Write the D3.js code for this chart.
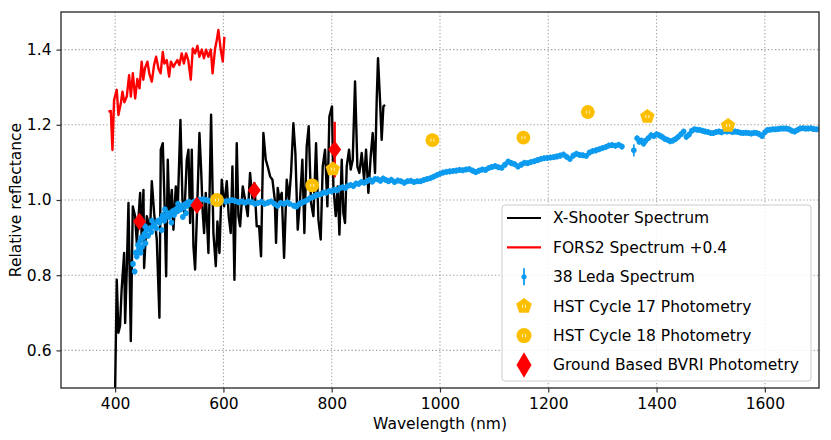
<!DOCTYPE html>
<html>
<head>
<meta charset="utf-8">
<script src="https://cdn.jsdelivr.net/npm/d3@7"></script>
<style>
  body { margin: 0; background: #fff; }
  svg { display: block; font-family: "DejaVu Sans", sans-serif; }
  .grid line { stroke: #a0a0a0; stroke-width: 1.1; stroke-dasharray: 1.3,2.2; }
  .axis line { stroke: #333; stroke-width: 1.2; }
  .axis path { display: none; }
</style>
</head>
<body>
<div id="chart"></div>
<script>
// X-Shooter spectrum [nm, reflectance]
var xshooter = [
  [400,0.50],[403,0.788],[406,0.647],[409,0.665],[412,0.762],[416.6,0.859],[418.5,0.673],[421.5,0.815],
  [424.6,0.992],[428.9,0.625],[432.6,0.983],[436.9,0.957],[440,0.886],[446.2,1.019],[449.2,0.895],
  [452.3,1.027],[453.5,0.819],[458.5,0.957],[464.6,0.921],[467.7,1.050],[472,0.965],[476.9,0.895],
  [481.8,0.687],[484.3,1.134],[488,1.151],[491.1,1.001],[494.2,0.797],[497.2,1.107],[500.3,0.957],
  [504.6,1.027],[507.7,0.921],[512,1.036],[515.7,0.983],[520.6,1.213],[524.3,1.001],[528,0.965],
  [532.3,1.107],[535.4,1.134],[538.5,0.939],[541.5,1.134],[544.6,0.877],[547.7,0.815],[552,1.001],
  [555.7,1.178],[558.8,1.081],[561.8,0.965],[564.3,0.912],[567.4,1.019],[572.3,0.859],[577.2,1.227],
  [581.5,0.912],[585.9,0.824],[588.9,0.943],[592.6,0.859],[596.9,1.054],[601.2,0.983],[606.2,1.050],
  [609.8,0.957],[613.5,0.912],[616.6,1.089],[620.3,0.788],[624.6,1.151],[627.7,0.957],[630.8,0.930],
  [635.7,1.036],[640,1.001],[644.9,0.957],[649.2,1.072],[653.5,1.001],[657.2,1.045],[661.5,0.930],
  [665.9,0.930],[669.5,0.850],[673.8,1.178],[678.2,1.107],[681.8,1.089],[686.2,1.063],[690.5,1.054],
  [694.8,1.001],[697.2,0.886],[700.3,1.032],[703.4,1.001],[707.7,1.019],[712,0.846],[716.9,1.054],
  [721.2,1.001],[724.9,1.072],[729.2,1.204],[732.9,1.125],[737.2,0.921],[741.5,1.001],[745.8,1.107],
  [749.5,0.912],[753.8,1.142],[757.5,1.196],[761.8,0.992],[766.2,0.957],[771.1,1.151],[775.4,0.948],
  [779.7,0.895],[783.4,1.089],[787.7,1.134],[792,0.983],[795.7,1.222],[800.5,1.249],[803.1,1.036],
  [807.4,0.957],[811.1,1.036],[814.2,0.908],[818.5,1.107],[821.5,0.965],[824.6,0.939],[827.7,1.089],
  [832,1.134],[835.1,1.081],[838.8,1.107],[843.1,1.315],[847.4,1.089],[851.1,1.072],[855.4,1.125],
  [859.8,1.054],[863.4,1.134],[867.7,1.019],[872,1.116],[875.7,1.178],[880,1.072],[883.1,1.266],
  [885.5,1.377],[889.2,1.266],[892.3,1.160],[895.4,1.249],[898.5,1.253]
];

// FORS2 spectrum, already shifted by +0.4
var fors2 = [
  [387.6,1.235],[392,1.237],[395,1.133],[398,1.266],[403,1.293],[406,1.226],[410.5,1.257],[413.5,1.288],
  [417,1.26],[421.5,1.275],[425.8,1.332],[429,1.275],[432.7,1.337],[437,1.27],[441,1.322],[445,1.297],
  [449,1.368],[452,1.32],[455,1.35],[459.6,1.368],[463,1.337],[467.7,1.315],[472,1.36],[475.7,1.381],
  [480,1.35],[484,1.337],[488,1.394],[491,1.363],[495.4,1.372],[499.7,1.328],[503,1.368],[507.7,1.354],
  [511,1.363],[515,1.372],[518.7,1.359],[523,1.39],[527,1.363],[531,1.39],[535,1.372],[539.7,1.32],
  [543.4,1.403],[547.7,1.39],[552,1.41],[555.6,1.381],[560,1.4],[564,1.377],[568,1.4],[572,1.381],
  [576.7,1.4],[580,1.337],[584.6,1.403],[587.7,1.425],[590.7,1.452],[595,1.4],[598.8,1.368],[601.8,1.434]
];

// 38 Leda spectrum [nm, reflectance, error]
var leda = [
  [433,0.83],[436,0.81],[438,0.86],[440,0.85],[442,0.88],[444,0.87],[446,0.89],[447,0.86],[448,0.90],
  [450,0.875],[452,0.90],[454,0.91],[455,0.93],[456,0.885],[458,0.92],[461,0.905],[464,0.925],[467,0.915],
  [468,0.945],[470,0.93],[473,0.935],[476,0.925],[479,0.945],[482,0.94],[485,0.95],[486,0.92],[488,0.96],
  [491,0.945],[492,0.975],[494,0.955],[497,0.965],[500,0.955],[503,0.965],[504,0.94],[506,0.97],[509,0.96],
  [512,0.975],[515,0.97],[516,0.99],[518,0.98],[521,0.975],[524,0.985],[525,0.955],[527,0.98],[530,0.99],
  [531,0.965],[533,0.985],[536,0.995],[540,0.99],[545,0.995],[550,0.998],[556,1.0],[562,1.002],[568,1.0],
  [574,0.998],[580,1.0],[586,1.003],[592,1.0],[598,0.998],[604,0.996],[610,0.998],[616,1.0],[622,0.997],
  [628,0.994],[634,0.996],[640,0.993],[646,0.996],[652,0.994],[658,0.99],[664,0.992],[670,0.995],[676,0.99],
  [682,0.993],[688,0.996],[694,0.99],[700,0.985],[706,0.992],[712,0.99],[718,0.994],[722,0.99],
  [730,0.985],[735,0.983],[740,0.99],[745,0.993],[750,0.996],[755,1.0],[760,1.005],[765,1.008],[770,1.012],
  [775,1.014],[780,1.016],[785,1.02],[790,1.019],[795,1.024],[800,1.023],[805,1.027],[810,1.026],[815,1.031],
  [820,1.034],[825,1.032],[830,1.038],[835,1.04],[840,1.037],[845,1.044],[850,1.043],[855,1.048],[860,1.046],
  [865,1.05],[870,1.054],[875,1.049],[880,1.056],[885,1.055],[890,1.051],[895,1.057],[900,1.053],[905,1.05],
  [910,1.054],[916,1.048],[922,1.052],[928,1.05],[934,1.046],[940,1.05],[946,1.051],[952,1.048],[958,1.05],
  [964,1.05],[970,1.053],[976,1.056],[982,1.058],[988,1.062],[994,1.066],[1000,1.07],[1006,1.073],
  [1012,1.075],[1018,1.076],[1024,1.077],[1030,1.078],[1036,1.08],[1042,1.079],[1048,1.081],[1054,1.082],
  [1060,1.078],[1066,1.074],[1072,1.078],[1078,1.081],[1084,1.08],[1090,1.085],[1096,1.088],[1102,1.09],
  [1108,1.087],[1114,1.086],[1120,1.094],[1126,1.102],[1132,1.098],[1138,1.095],[1144,1.089],[1150,1.094],
  [1156,1.099],[1162,1.098],[1168,1.101],[1174,1.103],[1180,1.106],[1186,1.109],[1192,1.111],[1198,1.112],
  [1204,1.113],[1210,1.114],[1216,1.116],[1222,1.118],[1228,1.121],[1234,1.115],[1240,1.109],[1246,1.118],
  [1252,1.123],[1258,1.12],[1264,1.119],[1270,1.117],[1276,1.126],[1282,1.13],[1288,1.132],[1294,1.135],
  [1300,1.138],[1306,1.141],[1312,1.145],[1318,1.146],[1324,1.144],[1330,1.147],[1336,1.142],
  [1358,1.132,0.016],
  [1364,1.164],[1368,1.155],[1372,1.158],[1376,1.15],[1380,1.158],[1385,1.165],[1390,1.172],[1395,1.17],
  [1400,1.175],[1405,1.172],[1410,1.168],[1415,1.163],[1420,1.16],[1425,1.156],[1430,1.158],[1435,1.162],
  [1440,1.168],[1445,1.175],[1450,1.182],[1455,1.168],[1460,1.174],[1465,1.184],[1470,1.188],[1475,1.187],
  [1480,1.186],[1485,1.184],[1490,1.182],[1495,1.181],[1500,1.178],[1505,1.178],[1510,1.181],[1515,1.182],
  [1520,1.18],[1525,1.183],[1530,1.182],[1535,1.183],[1540,1.181],[1545,1.182],[1550,1.181],[1555,1.179],
  [1560,1.178],[1565,1.179],[1570,1.178],[1575,1.177],[1580,1.179],[1585,1.178],[1590,1.175],[1595,1.17],
  [1600,1.18],[1605,1.186],[1610,1.187],[1615,1.188],[1620,1.188],[1625,1.189],[1630,1.19],[1635,1.19],
  [1640,1.19],[1645,1.188],[1650,1.184],[1655,1.182],[1660,1.186],[1665,1.19],[1670,1.191],[1675,1.19],
  [1680,1.19],[1685,1.191],[1690,1.189],[1695,1.188],[1700,1.188]
];

var hst17 = [[802,1.082],[1383,1.222],[1532,1.198]];
var hst18 = [[588,1.0],[764,1.039],[986,1.159],[1154,1.166],[1273,1.234]];
// ground based BVRI [nm, reflectance, error]
var bvri = [[445,0.943,0.01],[551,0.986,0.01],[657,1.026,0.01],[805.5,1.134,0.074]];

var xTicks = [400,600,800,1000,1200,1400,1600];
var yTicks = [0.6,0.8,1.0,1.2,1.4];
var legendLabels = ["X-Shooter Spectrum","FORS2 Spectrum +0.4","38 Leda Spectrum",
  "HST Cycle 17 Photometry","HST Cycle 18 Photometry","Ground Based BVRI Photometry"];

var W = 831, H = 440;
var pL = 61, pR = 819, pT = 12, pB = 388;
var blue = "#0c9bef", gold = "#fcbf00", red = "#ff0000";
var fontFam = "DejaVu Sans, sans-serif";

var svg = d3.select("#chart").append("svg").attr("width", W).attr("height", H);

var x = d3.scaleLinear().domain([300,1700]).range([pL,pR]);
var y = d3.scaleLinear().domain([0.5,1.5]).range([pB,pT]);

svg.append("defs").append("clipPath").attr("id","plotclip")
  .append("rect").attr("x",pL).attr("y",pT).attr("width",pR-pL).attr("height",pB-pT);

// grid
var grid = svg.append("g").attr("class","grid");
grid.selectAll(".gx").data(xTicks).enter().append("line")
  .attr("x1",d=>x(d)).attr("x2",d=>x(d)).attr("y1",pT).attr("y2",pB);
grid.selectAll(".gy").data(yTicks).enter().append("line")
  .attr("x1",pL).attr("x2",pR).attr("y1",d=>y(d)).attr("y2",d=>y(d));

var plot = svg.append("g").attr("clip-path","url(#plotclip)");

var line = d3.line().x(d=>x(d[0])).y(d=>y(d[1]));

plot.append("path").datum(xshooter).attr("d",line)
  .attr("fill","none").attr("stroke","#000").attr("stroke-width",2.4).attr("stroke-linejoin","round");
plot.append("path").datum(fors2).attr("d",line)
  .attr("fill","none").attr("stroke",red).attr("stroke-width",2.4).attr("stroke-linejoin","round");

// leda error bars + points
var lg = plot.append("g");
lg.selectAll("line").data(leda).enter().append("line")
  .attr("x1",d=>x(d[0])).attr("x2",d=>x(d[0]))
  .attr("y1",d=>y(d[1]+(d[2]||0.008))).attr("y2",d=>y(d[1]-(d[2]||0.008)))
  .attr("stroke",blue).attr("stroke-width",1.6);
lg.selectAll("circle").data(leda).enter().append("circle")
  .attr("cx",d=>x(d[0])).attr("cy",d=>y(d[1])).attr("r",2.8).attr("fill",blue);

function diamondPath(w, h) {
  return "M0," + (-h) + "L" + w + ",0L0," + h + "L" + (-w) + ",0Z";
}
function pentagonPath(r) {
  var pts = d3.range(5).map(function(k) {
    var a = -Math.PI/2 + k*2*Math.PI/5;
    return [r*Math.cos(a), r*Math.sin(a)];
  });
  return "M" + pts.map(p => p[0].toFixed(2) + "," + p[1].toFixed(2)).join("L") + "Z";
}
function ticksMark(g) {
  g.append("line").attr("x1",-1.5).attr("x2",-1.5).attr("y1",-1.5).attr("y2",1.5)
    .attr("stroke","#fff6d0").attr("stroke-width",0.9);
  g.append("line").attr("x1",1.5).attr("x2",1.5).attr("y1",-1.5).attr("y2",1.5)
    .attr("stroke","#fff6d0").attr("stroke-width",0.9);
}

// BVRI
var bg = plot.append("g");
bg.selectAll("line").data(bvri).enter().append("line")
  .attr("x1",d=>x(d[0])).attr("x2",d=>x(d[0]))
  .attr("y1",d=>y(d[1]+d[2])).attr("y2",d=>y(d[1]-d[2]))
  .attr("stroke",red).attr("stroke-width",2.4);
bg.selectAll("path").data(bvri).enter().append("path")
  .attr("d",diamondPath(6.5,8.8))
  .attr("transform",d=>"translate(" + x(d[0]) + "," + y(d[1]) + ")")
  .attr("fill",red);

// HST markers
plot.selectAll(".h17").data(hst17).enter().append("g").attr("class","h17")
  .attr("transform",d=>"translate(" + x(d[0]) + "," + y(d[1]) + ")")
  .each(function() {
    var g = d3.select(this);
    g.append("path").attr("d",pentagonPath(7.6)).attr("fill",gold);
    ticksMark(g);
  });
plot.selectAll(".h18").data(hst18).enter().append("g").attr("class","h18")
  .attr("transform",d=>"translate(" + x(d[0]) + "," + y(d[1]) + ")")
  .each(function() {
    var g = d3.select(this);
    g.append("circle").attr("r",6.9).attr("fill",gold);
    ticksMark(g);
  });

// axes
var xAxis = svg.append("g").attr("class","axis").attr("transform","translate(0," + pB + ")")
  .call(d3.axisBottom(x).tickValues(xTicks).tickSize(4.5).tickPadding(5).tickFormat(d3.format("d")));
var yAxis = svg.append("g").attr("class","axis").attr("transform","translate(" + pL + ",0)")
  .call(d3.axisLeft(y).tickValues(yTicks).tickSize(4.5).tickPadding(5).tickFormat(d3.format(".1f")));
[xAxis, yAxis].forEach(function(a) {
  a.attr("font-family", fontFam).attr("font-size", 15.5);
  a.selectAll("text").attr("fill", "#000");
});

svg.append("rect").attr("x",pL).attr("y",pT).attr("width",pR-pL).attr("height",pB-pT)
  .attr("fill","none").attr("stroke","#333").attr("stroke-width",1.4);

svg.append("text").attr("x",(pL+pR)/2).attr("y",429).attr("text-anchor","middle")
  .attr("font-size","15.5px").text("Wavelength (nm)");
svg.append("text").attr("transform","translate(21," + ((pT+pB)/2) + ") rotate(-90)")
  .attr("text-anchor","middle").attr("font-size","15.5px").text("Relative reflectance");

// legend
var leg = svg.append("g");
leg.append("rect").attr("x",502).attr("y",205).attr("width",309).attr("height",176)
  .attr("rx",3).attr("fill","#fff").attr("fill-opacity",0.85).attr("stroke","#cccccc");
var rowY = d3.range(6).map(i => 218 + i*29.4);
var hx = 524;
leg.selectAll("text").data(legendLabels).enter().append("text")
  .attr("x",553).attr("y",(d,i)=>rowY[i]).attr("dy","0.35em").attr("font-size","15.5px").text(d=>d);
leg.append("line").attr("x1",507).attr("x2",541).attr("y1",rowY[0]).attr("y2",rowY[0])
  .attr("stroke","#000").attr("stroke-width",2.2);
leg.append("line").attr("x1",507).attr("x2",541).attr("y1",rowY[1]).attr("y2",rowY[1])
  .attr("stroke",red).attr("stroke-width",2.2);
leg.append("line").attr("x1",hx).attr("x2",hx).attr("y1",rowY[2]-8.5).attr("y2",rowY[2]+8.5)
  .attr("stroke",blue).attr("stroke-width",1.8);
leg.append("circle").attr("cx",hx).attr("cy",rowY[2]).attr("r",2.6).attr("fill",blue);
var l17 = leg.append("g").attr("transform","translate(" + hx + "," + rowY[3] + ")");
l17.append("path").attr("d",pentagonPath(8.2)).attr("fill",gold);
ticksMark(l17);
var l18 = leg.append("g").attr("transform","translate(" + hx + "," + rowY[4] + ")");
l18.append("circle").attr("r",7.5).attr("fill",gold);
ticksMark(l18);
leg.append("path").attr("d",diamondPath(7.5,12.8))
  .attr("transform","translate(" + hx + "," + rowY[5] + ")").attr("fill",red);
</script>
</body>
</html>
